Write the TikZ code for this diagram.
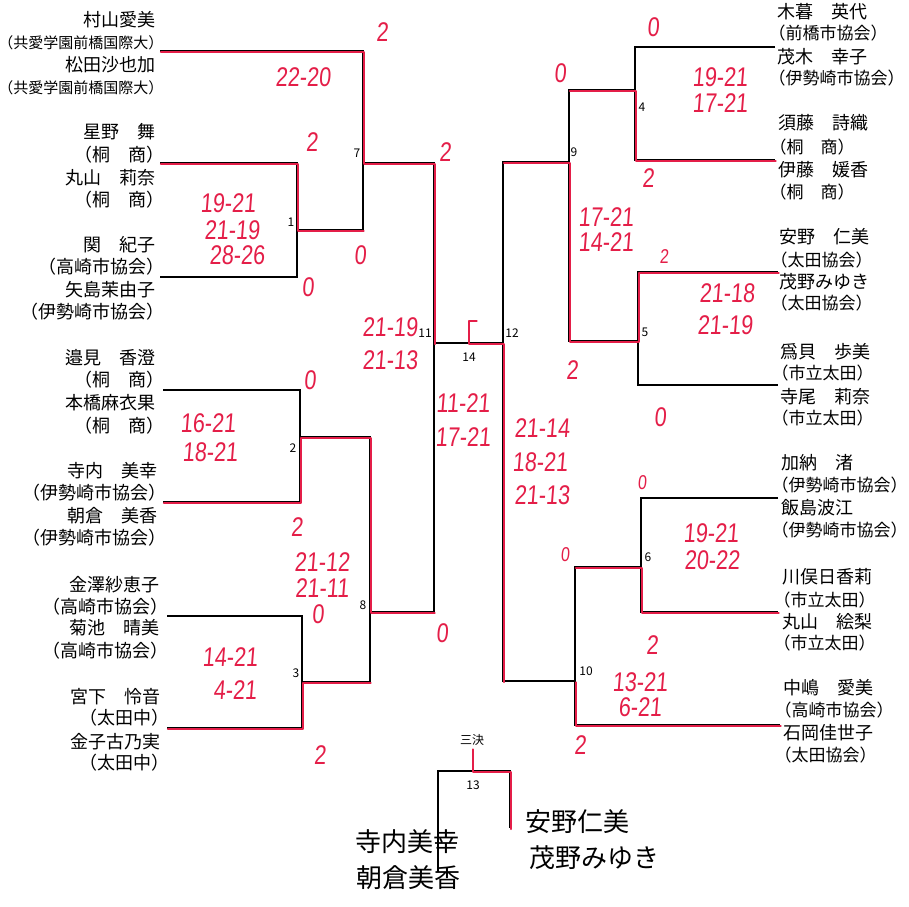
\documentclass[tikz,border=0pt]{standalone}
\usepackage{fontspec}
\newfontfamily\jp{Noto Sans CJK JP}
\newfontfamily\jph[RawFeature=+halt]{Noto Sans CJK JP}
\newfontfamily\hand[FakeStretch=0.8,FakeSlant=0.08]{Liberation Sans}
\definecolor{hred}{RGB}{228,30,72}
\tikzset{
  br/.style={line width=1.3pt, black},
  win/.style={line width=1.8pt, hred, line cap=round, line join=round, transform canvas={shift={(0.8pt,-1.2pt)}}},
  nm/.style={inner sep=0pt, font=\jp\fontsize{18}{18}\selectfont},
  cb/.style={inner sep=0pt, font=\jph\fontsize{18}{18}\selectfont},
  cbr/.style={inner sep=0pt, font=\jph\fontsize{17}{17}\selectfont},
  cbs/.style={inner sep=0pt, font=\jph\fontsize{15}{15}\selectfont},
  mn/.style={inner sep=0pt, font=\jp\fontsize{12}{12}\selectfont},
  sc/.style={inner sep=0pt, text=hred, font=\hand\fontsize{27}{27}\selectfont},
  scs/.style={inner sep=0pt, text=hred, font=\hand\fontsize{20}{20}\selectfont},
  hw/.style={inner sep=0pt, font=\jp\fontsize{26}{26}\selectfont}
}
\begin{document}
\begin{tikzpicture}[x=1pt,y=-1pt]
\fill[white] (0,0) rectangle (909,906);
\useasboundingbox (0,0) rectangle (909,906);

% ---------- coordinates: left half
\coordinate (eA) at (160,51);  \coordinate (m7t) at (363,51);
\coordinate (m7b) at (363,230); \coordinate (m7o) at (363,163);
\coordinate (e1a) at (160,163); \coordinate (m1t) at (297,163);
\coordinate (e1b) at (160,277); \coordinate (m1b) at (297,277); \coordinate (m1o) at (297,230);
\coordinate (e2a) at (163,390); \coordinate (m2t) at (300,390);
\coordinate (e2b) at (163,502); \coordinate (m2b) at (300,502); \coordinate (m2o) at (300,437);
\coordinate (e3a) at (167,616); \coordinate (m3t) at (302,616);
\coordinate (e3b) at (167,728); \coordinate (m3b) at (302,728); \coordinate (m3o) at (302,682);
\coordinate (m8t) at (370,437); \coordinate (m8b) at (370,682); \coordinate (m8o) at (370,612);
\coordinate (m11t) at (434,163); \coordinate (m11b) at (434,612); \coordinate (m11o) at (434,343);
% ---------- right half
\coordinate (e4a) at (775,47);  \coordinate (m4t) at (635,47);
\coordinate (e4b) at (775,160); \coordinate (m4b) at (635,160); \coordinate (m4o) at (635,90);
\coordinate (e5a) at (778,272); \coordinate (m5t) at (638,272);
\coordinate (e5b) at (778,385); \coordinate (m5b) at (638,385); \coordinate (m5o) at (638,341);
\coordinate (m9t) at (569,90);  \coordinate (m9b) at (569,341); \coordinate (m9o) at (569,162);
\coordinate (e6a) at (778,498); \coordinate (m6t) at (641,498);
\coordinate (e6b) at (778,612); \coordinate (m6b) at (641,612); \coordinate (m6o) at (641,567);
\coordinate (e10) at (780,725); \coordinate (m10b) at (575,725);
\coordinate (m10t) at (575,567); \coordinate (m10o) at (575,681);
\coordinate (m12t) at (503,162); \coordinate (m12b) at (503,681); \coordinate (m12o) at (503,343);
\coordinate (m14) at (468,343); \coordinate (m14f) at (468,320); \coordinate (m14g) at (476,320);
% ---------- third place
\coordinate (m13l) at (438,771); \coordinate (m13r) at (510,771);
\coordinate (m13lb) at (438,872); \coordinate (m13rb) at (510,828);
\coordinate (m13c) at (472,771); \coordinate (m13f) at (472,748);

% ---------- black bracket
\draw[br] (eA) -- (m7t) -- (m7b) -- (m1o);
\draw[br] (e1a) -- (m1t) -- (m1b) -- (e1b);
\draw[br] (m7o) -- (m11t) -- (m11b) -- (m8o);
\draw[br] (e2a) -- (m2t) -- (m2b) -- (e2b);
\draw[br] (m2o) -- (m8t) -- (m8b) -- (m3o);
\draw[br] (e3a) -- (m3t) -- (m3b) -- (e3b);
\draw[br] (m11o) -- (m12o);
\draw[br] (e4a) -- (m4t) -- (m4b) -- (e4b);
\draw[br] (m4o) -- (m9t) -- (m9b) -- (m5o);
\draw[br] (e5a) -- (m5t) -- (m5b) -- (e5b);
\draw[br] (m9o) -- (m12t) -- (m12b) -- (m10o);
\draw[br] (e6a) -- (m6t) -- (m6b) -- (e6b);
\draw[br] (m6o) -- (m10t) -- (m10b) -- (e10);
\draw[br] (m13lb) -- (m13l) -- (m13r) -- (m13rb);

% ---------- red winner lines
\draw[win] (eA) -- (m7t) -- (m7o) -- (m11t) -- (m11o);
\draw[win] (e1a) -- (m1t) -- (m1o) -- (m7b);
\draw[win] (e2b) -- (m2b) -- (m2o) -- (m8t) -- (m8o) -- (m11b);
\draw[win] (e3b) -- (m3b) -- (m3o) -- (m8b);
\draw[win] (e4b) -- (m4b) -- (m4o) -- (m9t);
\draw[win] (e5a) -- (m5t) -- (m5o) -- (m9b) -- (m9o) -- (m12t);
\draw[win] (e6b) -- (m6b) -- (m6o) -- (m10t);
\draw[win] (e10) -- (m10b) -- (m10o);
\draw[win] (m12b) -- (m12o) -- (m14) -- (m14f) -- (m14g);
\draw[win] (m13f) -- (m13c) -- (m13r) -- (m13rb);

% ---------- match numbers
\node[mn] (n1) at (291,222) {1};
\node[mn] (n2) at (293,448) {2};
\node[mn] (n3) at (296,673) {3};
\node[mn] (n7) at (357,153) {7};
\node[mn] (n8) at (363,605) {8};
\node[mn] (n11) at (425,333) {11};
\node[mn] (n12) at (512,333) {12};
\node[mn] (n14) at (469,357) {14};
\node[mn] (n4) at (642,107) {4};
\node[mn] (n9) at (574,152) {9};
\node[mn] (n5) at (645,332) {5};
\node[mn] (n6) at (648,557) {6};
\node[mn] (n10) at (586,671) {10};
\node[mn] (n13) at (473,785) {13};
\node[mn] (n3k) at (472,740) {三決};

% ---------- left names
\node[nm,anchor=east] (L1) at (156,20) {村山愛美};
\node[cbs,anchor=east] (L2) at (156,43) {（共愛学園前橋国際大）};
\node[nm,anchor=east] (L3) at (156,65) {松田沙也加};
\node[cbs,anchor=east] (L4) at (156,88) {（共愛学園前橋国際大）};
\node[nm,anchor=east] (L5) at (156,132) {星野　舞};
\node[cb,anchor=east] (L6) at (156,155) {（桐　商）};
\node[nm,anchor=east] (L7) at (156,178) {丸山　莉奈};
\node[cb,anchor=east] (L8) at (156,200) {（桐　商）};
\node[nm,anchor=east] (L9) at (156,245) {関　紀子};
\node[cb,anchor=east] (L10) at (156,267) {（高崎市協会）};
\node[nm,anchor=east] (L11) at (156,290) {矢島茉由子};
\node[cb,anchor=east] (L12) at (156,312) {（伊勢崎市協会）};
\node[nm,anchor=east] (L13) at (156,358) {邉見　香澄};
\node[cb,anchor=east] (L14) at (156,380) {（桐　商）};
\node[nm,anchor=east] (L15) at (156,403) {本橋麻衣果};
\node[cb,anchor=east] (L16) at (156,426) {（桐　商）};
\node[nm,anchor=east] (L17) at (158,471) {寺内　美幸};
\node[cb,anchor=east] (L18) at (158,493) {（伊勢崎市協会）};
\node[nm,anchor=east] (L19) at (158,516) {朝倉　美香};
\node[cb,anchor=east] (L20) at (158,538) {（伊勢崎市協会）};
\node[nm,anchor=east] (L21) at (160,585) {金澤紗恵子};
\node[cb,anchor=east] (L22) at (160,607) {（高崎市協会）};
\node[nm,anchor=east] (L23) at (160,628) {菊池　晴美};
\node[cb,anchor=east] (L24) at (160,651) {（高崎市協会）};
\node[nm,anchor=east] (L25) at (161,697) {宮下　怜音};
\node[cb,anchor=east] (L26) at (161,718) {（太田中）};
\node[nm,anchor=east] (L27) at (161,742) {金子古乃実};
\node[cb,anchor=east] (L28) at (161,763) {（太田中）};

% ---------- right names
\node[nm,anchor=west] (R1) at (777,12) {木暮　英代};
\node[cbr,anchor=west] (R2) at (777,33) {（前橋市協会）};
\node[nm,anchor=west] (R3) at (777,57) {茂木　幸子};
\node[cbr,anchor=west] (R4) at (777,78) {（伊勢崎市協会）};
\node[nm,anchor=west] (R5) at (778,123) {須藤　詩織};
\node[cbr,anchor=west] (R6) at (778,147) {（桐　商）};
\node[nm,anchor=west] (R7) at (778,170) {伊藤　媛香};
\node[cbr,anchor=west] (R8) at (778,192) {（桐　商）};
\node[nm,anchor=west] (R9) at (779,237) {安野　仁美};
\node[cbr,anchor=west] (R10) at (779,260) {（太田協会）};
\node[nm,anchor=west] (R11) at (779,282) {茂野みゆき};
\node[cbr,anchor=west] (R12) at (779,303) {（太田協会）};
\node[nm,anchor=west] (R13) at (780,352) {爲貝　歩美};
\node[cbr,anchor=west] (R14) at (780,373) {（市立太田）};
\node[nm,anchor=west] (R15) at (780,397) {寺尾　莉奈};
\node[cbr,anchor=west] (R16) at (780,418) {（市立太田）};
\node[nm,anchor=west] (R17) at (781,463) {加納　渚};
\node[cbr,anchor=west] (R18) at (780,485) {（伊勢崎市協会）};
\node[nm,anchor=west] (R19) at (781,508) {飯島波江};
\node[cbr,anchor=west] (R20) at (780,530) {（伊勢崎市協会）};
\node[nm,anchor=west] (R21) at (782,577) {川俣日香莉};
\node[cbr,anchor=west] (R22) at (782,600) {（市立太田）};
\node[nm,anchor=west] (R23) at (782,622) {丸山　絵梨};
\node[cbr,anchor=west] (R24) at (782,643) {（市立太田）};
\node[nm,anchor=west] (R25) at (783,688) {中嶋　愛美};
\node[cbr,anchor=west] (R26) at (783,710) {（高崎市協会）};
\node[nm,anchor=west] (R27) at (783,733) {石岡佳世子};
\node[cbr,anchor=west] (R28) at (783,755) {（太田協会）};

% ---------- red scores, left
\node[sc] (s1) at (382,32) {2};
\node[sc] (s2) at (303,77) {22-20};
\node[sc] (s3) at (312,142) {2};
\node[sc] (s4) at (445,152) {2};
\node[sc] (s5) at (228,203) {19-21};
\node[sc] (s6) at (232,230) {21-19};
\node[sc] (s7) at (237,255) {28-26};
\node[sc] (s8) at (360,255) {0};
\node[sc] (s9) at (308,287) {0};
\node[sc] (s10) at (390,327) {21-19};
\node[sc] (s11) at (390,360) {21-13};
\node[sc] (s12) at (463,403) {11-21};
\node[sc] (s13) at (463,437) {17-21};
\node[sc] (s14) at (310,380) {0};
\node[sc] (s15) at (208,423) {16-21};
\node[sc] (s16) at (210,452) {18-21};
\node[sc] (s17) at (297,527) {2};
\node[sc] (s18) at (322,562) {21-12};
\node[sc] (s19) at (322,588) {21-11};
\node[sc] (s20) at (318,614) {0};
\node[sc] (s21) at (442,633) {0};
\node[sc] (s22) at (230,657) {14-21};
\node[sc] (s23) at (235,690) {4-21};
\node[sc] (s24) at (320,755) {2};
% ---------- red scores, right
\node[sc] (t1) at (653,27) {0};
\node[sc] (t2) at (560,73) {0};
\node[sc] (t3) at (720,77) {19-21};
\node[sc] (t4) at (720,103) {17-21};
\node[sc] (t5) at (648,178) {2};
\node[sc] (t6) at (606,217) {17-21};
\node[sc] (t7) at (606,242) {14-21};
\node[scs] (t8) at (664,257) {2};
\node[sc] (t9) at (727,293) {21-18};
\node[sc] (t10) at (725,325) {21-19};
\node[sc] (t11) at (572,370) {2};
\node[sc] (t12) at (660,417) {0};
\node[sc] (t13) at (542,428) {21-14};
\node[sc] (t14) at (540,462) {18-21};
\node[sc] (t15) at (542,495) {21-13};
\node[scs] (t16) at (642,483) {0};
\node[sc] (t17) at (711,533) {19-21};
\node[sc] (t18) at (712,560) {20-22};
\node[scs] (t19) at (565,555) {0};
\node[sc] (t20) at (652,645) {2};
\node[sc] (t21) at (640,682) {13-21};
\node[sc] (t22) at (640,707) {6-21};
\node[sc] (t23) at (580,745) {2};

% ---------- handwritten third-place names
\node[hw] (h1) at (407,842) {寺内美幸};
\node[hw] (h2) at (408,878) {朝倉美香};
\node[hw] (h3) at (577,822) {安野仁美};
\node[hw] (h4) at (594,858) {茂野みゆき};
\end{tikzpicture}
\end{document}
